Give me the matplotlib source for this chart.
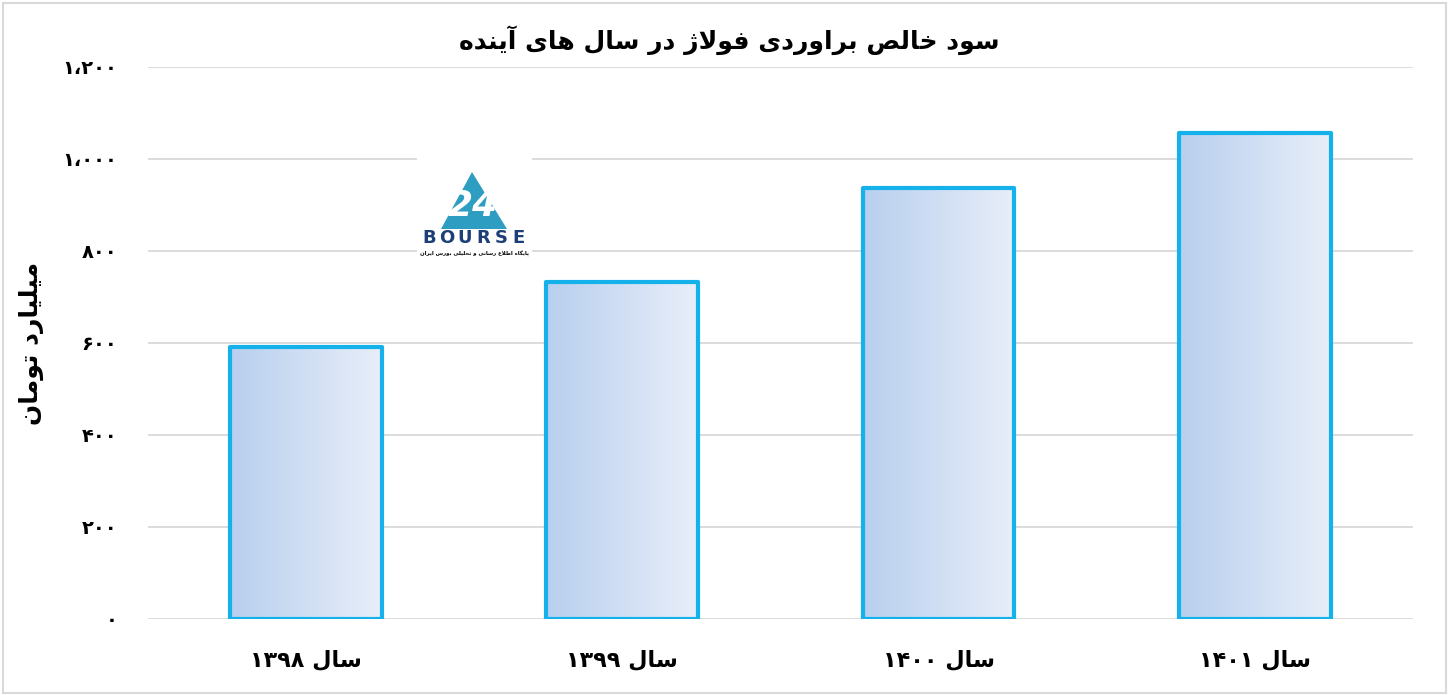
import re
import numpy as np
import matplotlib
matplotlib.use('Agg')
import matplotlib.pyplot as plt
from matplotlib.colors import LinearSegmentedColormap
from matplotlib.patches import Rectangle, Polygon

# داده ها
years = ['۱۳۹۸', '۱۳۹۹', '۱۴۰۰', '۱۴۰۱']
profit = [591, 733, 938, 1057]
y_ticks = [0, 200, 400, 600, 800, 1000, 1200]
y_tick_labels = ['۰', '۲۰۰', '۴۰۰', '۶۰۰', '۸۰۰', '۱،۰۰۰', '۱،۲۰۰']
title = 'سود خالص براوردی فولاژ در سال های آینده'
y_label = 'میلیارد تومان'
x_prefix = 'سال '
logo_name = 'BOURSE'
logo_sub = 'پایگاه اطلاع رسانی و تحلیلی بورس ایران'

# شکل دهی حروف فارسی (matplotlib خودش این کار را نمی کند)
FORMS = {
    'ا': (0xFE8D, 0xFE8E), 'آ': (0xFE81, 0xFE82),
    'ب': (0xFE8F, 0xFE90, 0xFE91, 0xFE92), 'پ': (0xFB56, 0xFB57, 0xFB58, 0xFB59),
    'ت': (0xFE95, 0xFE96, 0xFE97, 0xFE98), 'ح': (0xFEA1, 0xFEA2, 0xFEA3, 0xFEA4),
    'خ': (0xFEA5, 0xFEA6, 0xFEA7, 0xFEA8), 'د': (0xFEA9, 0xFEAA),
    'ر': (0xFEAD, 0xFEAE), 'ژ': (0x0698, 0xFB8B),
    'س': (0xFEB1, 0xFEB2, 0xFEB3, 0xFEB4), 'ص': (0xFEB9, 0xFEBA, 0xFEBB, 0xFEBC),
    'ط': (0xFEC1, 0xFEC2, 0xFEC3, 0xFEC4), 'ع': (0xFEC9, 0xFECA, 0xFECB, 0xFECC),
    'ف': (0xFED1, 0xFED2, 0xFED3, 0xFED4), 'گ': (0xFB92, 0xFB93, 0xFB94, 0xFB95),
    'ل': (0xFEDD, 0xFEDE, 0xFEDF, 0xFEE0), 'م': (0xFEE1, 0xFEE2, 0xFEE3, 0xFEE4),
    'ن': (0xFEE5, 0xFEE6, 0xFEE7, 0xFEE8), 'ه': (0xFEE9, 0xFEEA, 0xFEEB, 0xFEEC),
    'و': (0xFEED, 0xFEEE), 'ی': (0xFEEF, 0xFEF0, 0xFEF3, 0xFEF4),
}
LAM_ALEF = {'ا': (0xFEFB, 0xFEFC), 'آ': (0xFEF5, 0xFEF6)}
DIGITS = '۰۱۲۳۴۵۶۷۸۹0123456789'


def shape(text):
    chars = list(text)
    n = len(chars)
    out = []

    def joins_next(j):
        return 0 <= j < n and chars[j] in FORMS and len(FORMS[chars[j]]) == 4

    i = 0
    while i < n:
        c = chars[i]
        if c == 'ل' and i + 1 < n and chars[i + 1] in LAM_ALEF:
            iso, fin = LAM_ALEF[chars[i + 1]]
            out.append(chr(fin if joins_next(i - 1) else iso))
            i += 2
            continue
        if c not in FORMS:
            out.append(c)
            i += 1
            continue
        f = FORMS[c]
        prev = joins_next(i - 1)
        nxt = len(f) == 4 and i + 1 < n and chars[i + 1] in FORMS
        if prev and nxt:
            g = f[3]
        elif prev:
            g = f[1]
        elif nxt:
            g = f[2]
        else:
            g = f[0]
        out.append(chr(g))
        i += 1
    return ''.join(out)


def fa(text):
    s = shape(text)
    parts = re.findall(r'[۰-۹0-9](?:[۰-۹0-9،,.]*[۰-۹0-9])?|[^۰-۹0-9]+', s)
    return ''.join(p if p[0] in DIGITS else p[::-1] for p in reversed(parts))


plt.rcParams['font.family'] = ['DejaVu Sans']

fig = plt.figure(figsize=(14.5, 6.95), dpi=100)
ax = fig.add_axes([0.102, 0.1094, 0.8724, 0.7942])

x = np.arange(len(years))
bars = ax.bar(x, profit, width=0.48, facecolor='none', edgecolor='#14B1EA',
              linewidth=3, joinstyle='round', zorder=3)

# گرادیان داخل ستون ها
grad = np.linspace(0, 1, 256).reshape(1, -1)
cmap = LinearSegmentedColormap.from_list('bar_grad', ['#B8CFEE', '#E8EEF9'])
for b in bars:
    im = ax.imshow(grad, cmap=cmap, aspect='auto', zorder=2,
                   extent=[b.get_x(), b.get_x() + b.get_width(), 0, b.get_height()])
    im.set_clip_path(b)

ax.set_xlim(-0.5, len(years) - 0.5)
ax.set_ylim(0, 1200)
ax.set_yticks(y_ticks)
ax.set_yticklabels([fa(t) for t in y_tick_labels], fontsize=14, fontweight='bold')
ax.set_xticks(x)
ax.set_xticklabels([fa(x_prefix + y) for y in years], fontsize=16, fontweight='bold')
ax.tick_params(length=0)
ax.tick_params(axis='y', pad=22)
ax.tick_params(axis='x', pad=22)
ax.yaxis.grid(True, color='#D9D9D9', linewidth=1.3)
ax.set_axisbelow(True)
for s in ax.spines.values():
    s.set_visible(False)

fig.text(0.503, 0.942, fa(title), ha='center', va='center',
         fontsize=18, fontweight='bold')
fig.text(0.022, 0.506, fa(y_label), rotation=90, ha='center', va='center',
         fontsize=18, fontweight='bold')

# قاب دور نمودار
fig.patches.append(Rectangle((0.002, 0.003), 0.995, 0.993, transform=fig.transFigure,
                             fill=False, edgecolor='#D9D9D9', linewidth=1.5))

# لوگو
lg = fig.add_axes([417 / 1450, 1 - 262 / 695, 115 / 1450, 104 / 695], zorder=5)
lg.set_xlim(0, 115)
lg.set_ylim(104, 0)
lg.axis('off')
lg.add_patch(Rectangle((0, 0), 115, 104, facecolor='white', edgecolor='none'))
lg.add_patch(Polygon([(55, 14), (24, 71), (90, 71)], closed=True,
                     facecolor='#2E9DC2', edgecolor='none'))
lg.text(56, 48, '24', ha='center', va='center', color='white',
        fontsize=26, fontweight='bold', style='italic')
for k, ch in enumerate(logo_name):
    lg.text(12 + 18 * k, 80, ch, ha='center', va='center', color='#1C3F77',
            fontsize=13, fontweight='bold')
lg.text(57, 96, fa(logo_sub), ha='center', va='center', color='black',
        fontsize=3.9, fontweight='bold')

fig.savefig('out.png', dpi=100)
